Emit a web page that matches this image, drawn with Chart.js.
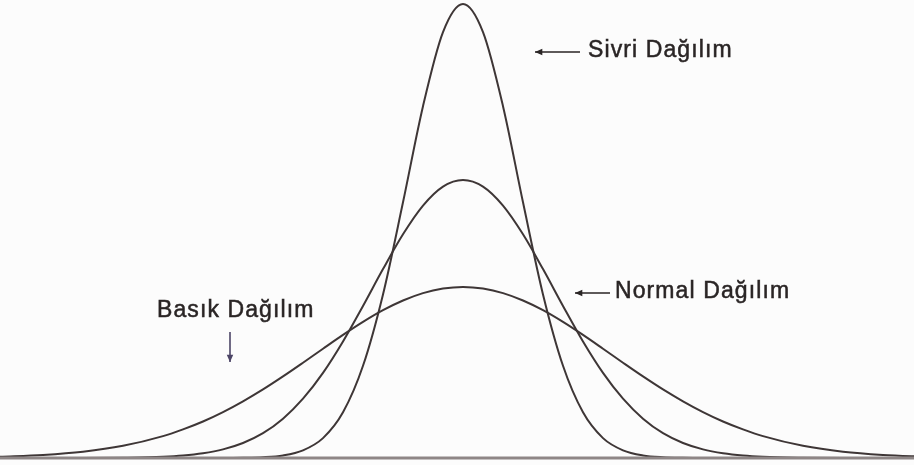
<!DOCTYPE html>
<html>
<head>
<meta charset="utf-8">
<script src="https://cdn.jsdelivr.net/npm/chart.js@4.4.1/dist/chart.umd.min.js"></script>
<style>
  html, body { margin: 0; padding: 0; background: #fcfcfc; }
  #wrap { width: 914px; height: 465px; }
</style>
</head>
<body>
<div id="wrap"><canvas id="distChart" width="914" height="465"></canvas></div>
<script>
"use strict";

// horizontal position (centred on the mean)
const xOffsets = [-463, -420, -380, -340, -300, -280, -260, -240, -220, -200, -180, -160, -140, -120, -100, -80, -60, -40, -20,
  0, 20, 40, 60, 80, 100, 120, 140, 160, 180, 200, 220, 240, 260, 280, 300, 340, 380, 420, 463];

// curve heights above the baseline
const sivriValues = [0, 0, 0, 0, 0, 0, 0, 0, 0.2, 0.8, 2.6, 7.7, 19.9, 45.7, 92.2, 163.6, 255.7, 351.8, 425.9,
  454, 425.9, 351.8, 255.7, 163.6, 92.2, 45.7, 19.9, 7.7, 2.6, 0.8, 0.2, 0, 0, 0, 0, 0, 0, 0, 0];
const normalValues = [0, 0, 0, 0.3, 1.2, 2.4, 4.7, 8.6, 15.0, 24.8, 39.3, 59.3, 85.1, 116.5, 152.0, 188.9, 223.7, 252.4, 271.4,
  278, 271.4, 252.4, 223.7, 188.9, 152.0, 116.5, 85.1, 59.3, 39.3, 24.8, 15.0, 8.6, 4.7, 2.4, 1.2, 0.3, 0, 0, 0];
const basikValues = [1.3, 3.1, 6.3, 12.2, 21.9, 28.6, 36.5, 45.9, 56.7, 68.6, 81.6, 95.3, 109.3, 123.1, 136.1, 147.8, 157.5, 164.9, 169.4,
  171, 169.4, 164.9, 157.5, 147.8, 136.1, 123.1, 109.3, 95.3, 81.6, 68.6, 56.7, 45.9, 36.5, 28.6, 21.9, 12.2, 6.3, 3.1, 1.3];

const baseLineX = [-463, 451];
const baseLineY = [0, 0];

// annotation texts and where they sit (same units as the data)
const labelTexts = ["Sivri Dağılım", "Normal Dağılım", "Basık Dağılım"];
const labelX = [125, 152, -306];
const labelY = [401, 160, 141];

const toPoints = (xs, ys) => xs.map((x, i) => ({ x: x, y: ys[i] }));

const curveStyle = {
  borderColor: "#3e3636",
  borderWidth: 2,
  pointRadius: 0,
  fill: false,
  cubicInterpolationMode: "monotone",
  clip: false,
};

const annotationPlugin = {
  id: "annotations",
  afterDatasetsDraw(chart) {
    const ctx = chart.ctx;
    const xs = chart.scales.x;
    const ys = chart.scales.y;
    ctx.save();
    ctx.font = "23px 'Liberation Sans', Arial, sans-serif";
    if ("letterSpacing" in ctx) ctx.letterSpacing = "1.1px";
    ctx.fillStyle = "#2a2525";
    ctx.strokeStyle = "#2a2525";
    ctx.lineWidth = 0.5;
    ctx.textBaseline = "alphabetic";
    labelTexts.forEach((txt, i) => {
      const px = xs.getPixelForValue(labelX[i]);
      const py = ys.getPixelForValue(labelY[i]);
      ctx.fillText(txt, px, py);
      ctx.strokeText(txt, px, py);
    });

    const drawArrow = (x1, y1, x2, y2, color) => {
      // arrow from (x1,y1) pointing to (x2,y2)
      const px1 = xs.getPixelForValue(x1), py1 = ys.getPixelForValue(y1);
      const px2 = xs.getPixelForValue(x2), py2 = ys.getPixelForValue(y2);
      const ang = Math.atan2(py2 - py1, px2 - px1);
      ctx.strokeStyle = color;
      ctx.fillStyle = color;
      ctx.lineWidth = 1.6;
      ctx.beginPath();
      ctx.moveTo(px1, py1);
      ctx.lineTo(px2, py2);
      ctx.stroke();
      ctx.beginPath();
      ctx.moveTo(px2, py2);
      ctx.lineTo(px2 - 8 * Math.cos(ang - 0.42), py2 - 8 * Math.sin(ang - 0.42));
      ctx.lineTo(px2 - 8 * Math.cos(ang + 0.42), py2 - 8 * Math.sin(ang + 0.42));
      ctx.closePath();
      ctx.fill();
    };
    drawArrow(117, 406, 72, 406, "#2a2525");
    drawArrow(147, 165, 112, 165, "#2a2525");
    drawArrow(-233, 126, -233, 96, "#4c4566");
    ctx.restore();
  },
};

document.addEventListener("DOMContentLoaded", () => {
  const canvas = document.querySelector("#distChart");
  new Chart(canvas, {
    type: "line",
    data: {
      datasets: [
        {
          label: "baseline",
          data: toPoints(baseLineX, baseLineY),
          borderColor: "#8e8686",
          borderWidth: 3,
          pointRadius: 0,
          clip: false,
        },
        { label: "Basık", data: toPoints(xOffsets, basikValues), ...curveStyle },
        { label: "Normal", data: toPoints(xOffsets, normalValues), ...curveStyle },
        { label: "Sivri", data: toPoints(xOffsets, sivriValues), ...curveStyle },
      ],
    },
    options: {
      responsive: false,
      animation: false,
      layout: { padding: { top: 4, bottom: 7, left: 0, right: 0 } },
      plugins: {
        legend: { display: false },
        tooltip: { enabled: false },
      },
      scales: {
        x: { type: "linear", min: -463, max: 451, display: false },
        y: { min: 0, max: 454, display: false },
      },
    },
    plugins: [annotationPlugin],
  });
});
</script>
</body>
</html>
